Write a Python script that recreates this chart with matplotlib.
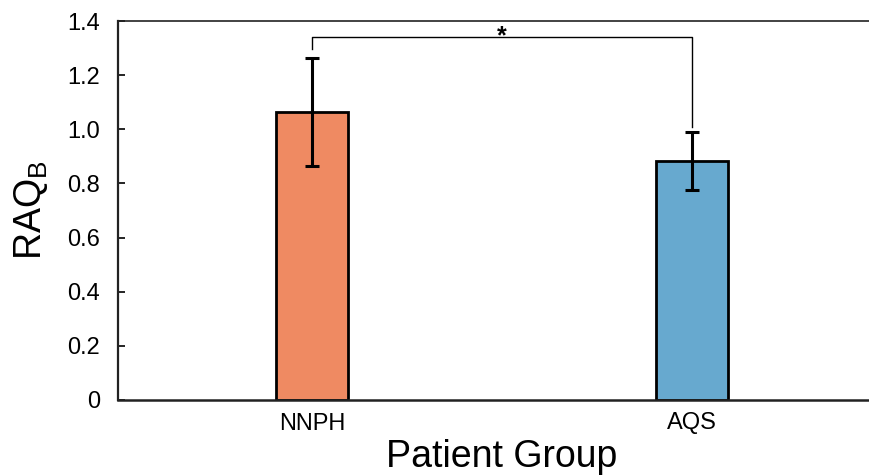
import matplotlib
matplotlib.use("Agg")
import matplotlib.pyplot as plt

plt.rcParams["font.family"] = ["Liberation Sans", "DejaVu Sans"]
plt.rcParams["mathtext.fontset"] = "custom"
plt.rcParams["mathtext.rm"] = "Liberation Sans"

# group means and standard errors
groups = ["NNPH", "AQS"]
means = [1.065, 0.882]
errors = [0.2, 0.108]
colors = ["#EF8A62", "#67A9CF"]

# significance bracket between the two groups
bracket_y = 1.34
bracket_ends = [1.295, 1.01]
sig_label = "*"

y_ticks = [0, 0.2, 0.4, 0.6, 0.8, 1.0, 1.2, 1.4]
y_tick_labels = ["0", "0.2", "0.4", "0.6", "0.8", "1.0", "1.2", "1.4"]

fig = plt.figure(figsize=(8.69, 4.76), dpi=100)
ax = fig.add_axes([118 / 869, 76 / 476, 768 / 869, 379 / 476])

x = list(range(len(groups)))
ax.bar(x, means, width=0.19, color=colors, edgecolor="black", linewidth=2.0,
       zorder=2)
ax.errorbar(x, means, yerr=errors, fmt="none", ecolor="black", elinewidth=2.2,
            capsize=5, capthick=2.2, zorder=3)

# bracket with star
ax.plot([x[0], x[0], x[1], x[1]],
        [bracket_ends[0], bracket_y, bracket_y, bracket_ends[1]],
        color="black", linewidth=1.0, zorder=3)
ax.text((x[0] + x[1]) / 2, 1.318, sig_label, ha="center",
        va="baseline", fontsize=18, fontweight="bold")

ax.set_xlim(-0.51, 1.51)
ax.set_ylim(0, 1.4)
ax.set_xticks(x)
ax.set_xticklabels(groups)
ax.set_yticks(y_ticks)
ax.set_yticklabels(y_tick_labels)

ax.tick_params(axis="y", direction="in", length=5, width=1.2, labelsize=17,
               pad=13)
ax.tick_params(axis="x", direction="in", length=6, width=1.0, labelsize=17,
               pad=9)

ax.spines["right"].set_visible(False)
ax.spines["top"].set_linewidth(1.2)
ax.spines["left"].set_linewidth(1.6)
ax.spines["bottom"].set_linewidth(1.8)
for s in ax.spines.values():
    s.set_color("#222222")

ax.set_ylabel(r"RAQ$_\mathrm{B}$", fontsize=27, labelpad=12)
ax.set_xlabel("Patient Group", fontsize=27, labelpad=3)

fig.savefig("out.png", dpi=100)
